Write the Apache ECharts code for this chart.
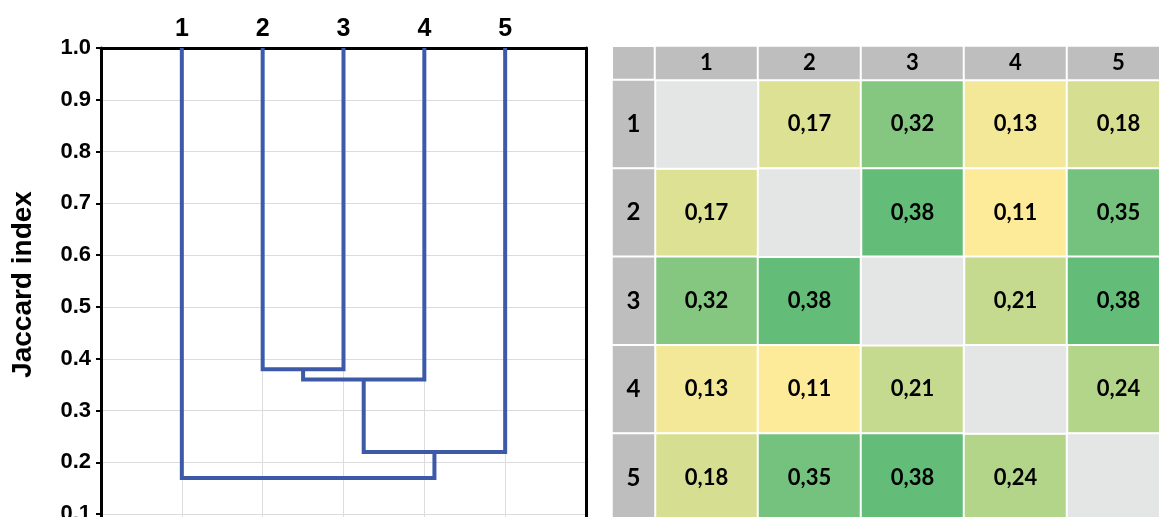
<!DOCTYPE html>
<html>
<head>
<meta charset="utf-8">
<script src="https://cdn.jsdelivr.net/npm/echarts@6/dist/echarts.min.js"></script>
<style>
html, body { margin: 0; padding: 0; background: #fff; }
#chart { width: 1159px; height: 517px; }
</style>
</head>
<body>
<div id="chart"></div>
<script>
// dendrogram leaves and their place on the x axis
var leafNames = ["1", "2", "3", "4", "5"];
var leafPos = [1, 2, 3, 4, 5];
// merges: [left node, right node, height]; nodes 0-4 are leaves, 5.. are the merges in order
var merges = [
  [1, 2, 0.38],
  [5, 3, 0.36],
  [6, 4, 0.22],
  [0, 7, 0.17]
];
// pairwise Jaccard matrix (null = diagonal)
var matrixNames = ["1", "2", "3", "4", "5"];
var jaccard = [
  [null, 0.17, 0.32, 0.13, 0.18],
  [0.17, null, 0.38, 0.11, 0.35],
  [0.32, 0.38, null, 0.21, 0.38],
  [0.13, 0.11, 0.21, null, 0.24],
  [0.18, 0.35, 0.38, 0.24, null]
];

var blue = "#3D5AA8";
var gridColor = "#DCDCDC";
var headGray = "#BFBEBF";

// build one U-shaped line per merge
var nodeX = leafPos.slice();
var nodeTop = leafPos.map(function () { return 1.0; });
var dendroSeries = merges.map(function (m) {
  var a = m[0], b = m[1], h = m[2];
  var pts = [
    [nodeX[a], nodeTop[a]],
    [nodeX[a], h],
    [nodeX[b], h],
    [nodeX[b], nodeTop[b]]
  ];
  nodeX.push((nodeX[a] + nodeX[b]) / 2);
  nodeTop.push(h);
  return {
    type: "line",
    xAxisIndex: 0,
    yAxisIndex: 0,
    data: pts,
    symbol: "none",
    silent: true,
    lineStyle: { color: blue, width: 4, join: "miter" },
    z: 3
  };
});

var cellData = [], diagData = [];
jaccard.forEach(function (row, i) {
  row.forEach(function (v, j) {
    if (v === null) diagData.push([j, i, 0]);
    else cellData.push([j, i, v]);
  });
});
var colHeadData = matrixNames.map(function (n, j) { return [j, 0, j]; });
var rowHeadData = matrixNames.map(function (n, i) { return [0, i, i]; });

function headSeries(xi, yi, data, size, pick) {
  return {
    type: "heatmap",
    xAxisIndex: xi,
    yAxisIndex: yi,
    data: data,
    silent: true,
    itemStyle: { color: headGray, borderColor: "#fff", borderWidth: 2 },
    label: {
      show: true,
      fontFamily: "Lato",
      fontWeight: "bold",
      fontSize: size,
      color: "#000",
      formatter: function (p) { return matrixNames[p.value[pick]]; }
    }
  };
}

var hiddenCat = function (grid, data, inverse) {
  return { gridIndex: grid, type: "category", data: data, inverse: !!inverse, show: false };
};

var chart = echarts.init(document.getElementById("chart"));
chart.setOption({
  animation: false,
  backgroundColor: "#fff",
  grid: [
    { left: 101, top: 48, width: 485, height: 518, outerBoundsMode: "none", containLabel: false },
    { left: 655, top: 80, width: 515, height: 442, outerBoundsMode: "none", containLabel: false },
    { left: 655, top: 46, width: 515, height: 34, outerBoundsMode: "none", containLabel: false },
    { left: 612, top: 80, width: 43, height: 442, outerBoundsMode: "none", containLabel: false }
  ],
  graphic: [
    { type: "rect", shape: { x: 613, y: 47, width: 41, height: 32 }, style: { fill: headGray } }
  ],
  xAxis: [
    {
      gridIndex: 0,
      type: "value",
      position: "top",
      min: 0,
      max: 6,
      interval: 1,
      axisLine: { show: true, onZero: false, lineStyle: { color: "#000", width: 3 } },
      axisTick: { show: false },
      splitLine: { show: true, lineStyle: { color: gridColor, width: 1 } },
      axisLabel: {
        margin: 6,
        fontFamily: "Liberation Sans",
        fontWeight: "bold",
        fontSize: 25,
        color: "#000",
        formatter: function (v) {
          var k = leafPos.indexOf(v);
          return k >= 0 ? leafNames[k] : "";
        }
      }
    },
    hiddenCat(1, matrixNames),
    hiddenCat(2, matrixNames),
    hiddenCat(3, ["h"])
  ],
  yAxis: [
    {
      gridIndex: 0,
      type: "value",
      min: 0,
      max: 1,
      interval: 0.1,
      name: "Jaccard index",
      nameLocation: "middle",
      nameGap: 64,
      nameTextStyle: {
        fontFamily: "Liberation Sans",
        fontWeight: "bold",
        fontSize: 28,
        color: "#000",
        padding: [0, 0, 0, 45]
      },
      axisLine: { show: true, onZero: false, lineStyle: { color: "#000", width: 3 } },
      axisTick: { show: true, length: 5, lineStyle: { color: "#000", width: 2 } },
      splitLine: { show: true, lineStyle: { color: gridColor, width: 1 } },
      axisLabel: {
        margin: 10,
        fontFamily: "Liberation Sans",
        fontWeight: "bold",
        fontSize: 22,
        color: "#000",
        formatter: function (v) { return v.toFixed(1); }
      }
    },
    {
      gridIndex: 0,
      type: "value",
      position: "right",
      min: 0,
      max: 1,
      axisLine: { show: true, onZero: false, lineStyle: { color: "#000", width: 3 } },
      axisTick: { show: false },
      axisLabel: { show: false },
      splitLine: { show: false }
    },
    hiddenCat(1, matrixNames, true),
    hiddenCat(2, ["h"]),
    hiddenCat(3, matrixNames, true)
  ],
  visualMap: {
    show: false,
    type: "continuous",
    seriesIndex: dendroSeries.length,
    min: 0.11,
    max: 0.38,
    inRange: { color: ["#FEEB9A", "#63BD79"] }
  },
  series: dendroSeries.concat([
    {
      type: "heatmap",
      xAxisIndex: 1,
      yAxisIndex: 2,
      data: cellData,
      silent: true,
      itemStyle: { borderColor: "#fff", borderWidth: 2 },
      label: {
        show: true,
        fontFamily: "Lato",
        fontWeight: "bold",
        fontSize: 22,
        color: "#000",
        formatter: function (p) { return p.value[2].toFixed(2).replace(".", ","); }
      }
    },
    {
      type: "heatmap",
      xAxisIndex: 1,
      yAxisIndex: 2,
      data: diagData,
      silent: true,
      itemStyle: { color: "#E4E5E5", borderColor: "#fff", borderWidth: 2 },
      label: { show: false }
    },
    headSeries(2, 3, colHeadData, 22, 0),
    headSeries(3, 4, rowHeadData, 24, 1)
  ])
});
</script>
</body>
</html>
